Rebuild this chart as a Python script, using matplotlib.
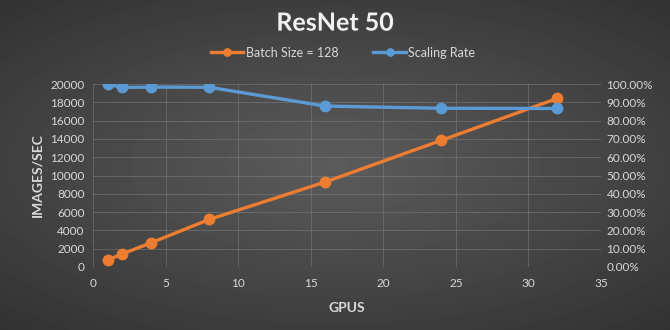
import numpy as np
import matplotlib
matplotlib.use("Agg")
import matplotlib.pyplot as plt
from matplotlib.ticker import FuncFormatter, MultipleLocator
import matplotlib.patheffects as pe

plt.rcParams['font.family'] = ['Lato', 'DejaVu Sans']

# ResNet 50 throughput vs. number of GPUs
gpus = [1, 2, 4, 8, 16, 24, 32]
images_per_sec = [770, 1420, 2650, 5200, 9300, 13850, 18450]
scaling_rate = [100.0, 98.2, 98.4, 98.3, 88.0, 86.8, 86.7]

orange = '#ED7D31'
blue = '#5B9BD5'
txt = '#d9d9d9'

fig = plt.figure(figsize=(6.7, 3.3), dpi=100)

# radial dark background
bg = fig.add_axes([0, 0, 1, 1], zorder=-10)
yy, xx = np.mgrid[-1:1:330j, -1:1:670j]
r = np.sqrt((xx * 0.9) ** 2 + (yy * 1.0) ** 2)
bg.imshow(0.36 - 0.17 * np.clip(r, 0, 1.4) / 1.4, cmap='gray', vmin=0, vmax=1,
          aspect='auto', extent=[0, 1, 0, 1])
bg.axis('off')

ax = fig.add_axes([0.139, 0.191, 0.758, 0.554])
ax.patch.set_alpha(0)
ax2 = ax.twinx()

l1, = ax.plot(gpus, images_per_sec, color=orange, lw=2.4, marker='o', ms=7.5,
              label='Batch Size = 128', zorder=3)
l2, = ax2.plot(gpus, scaling_rate, color=blue, lw=2.4, marker='o', ms=7.5,
               label='Scaling Rate', zorder=3)

ax.set_xlim(0, 35)
ax.set_ylim(0, 20000)
ax2.set_ylim(0, 100)
ax.xaxis.set_major_locator(MultipleLocator(5))
ax.yaxis.set_major_locator(MultipleLocator(2000))
ax2.yaxis.set_major_locator(MultipleLocator(10))
ax2.yaxis.set_major_formatter(FuncFormatter(lambda v, p: f'{v:.2f}%'))

ax.grid(True, color='#8a8a8a', lw=0.6, alpha=0.5)
for a in (ax, ax2):
    for s in a.spines.values():
        s.set_visible(False)
    a.tick_params(length=0, colors=txt, labelsize=8.5)
ax.tick_params(axis='y', pad=6)
ax.tick_params(axis='x', pad=8)
ax2.tick_params(axis='y', pad=4)

ax.set_xlabel('GPUS', color=txt, fontsize=10, fontweight='bold', labelpad=9)
ax.set_ylabel('IMAGES/SEC', color=txt, fontsize=10, fontweight='bold', labelpad=5)

fig.text(0.5, 0.93, 'ResNet 50', ha='center', va='center', color='#f2f2f2',
         fontsize=18, fontweight='bold',
         path_effects=[pe.withSimplePatchShadow(offset=(1, -1), alpha=0.6)])

fig.legend(handles=[l1, l2], loc='center', bbox_to_anchor=(0.512, 0.84), ncol=2,
           frameon=False, fontsize=9, labelcolor=txt, handlelength=2.6,
           handletextpad=0.2, columnspacing=2.8, markerscale=0.7)

fig.savefig('out.png', dpi=100)
